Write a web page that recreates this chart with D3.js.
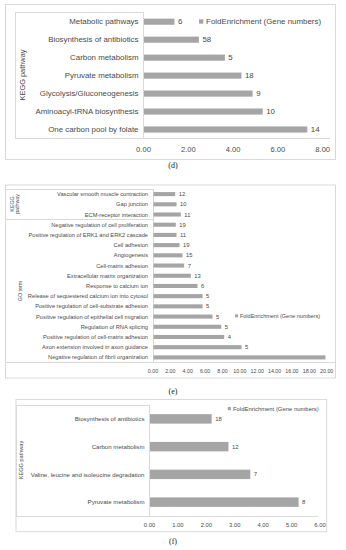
<!DOCTYPE html>
<html>
<head>
<meta charset="utf-8">
<title>Enrichment bars</title>
<script src="https://cdnjs.cloudflare.com/ajax/libs/d3/7.8.5/d3.min.js"></script>
<style>
    body { margin: 0; background: #fff; }
    text { font-family: "Liberation Sans", Arial, sans-serif; fill: #4a4a4a; }
    .frame { fill: none; stroke: #d9d9d9; }
    .grid { stroke: #d9d9d9; shape-rendering: crispEdges; }
    .bar { fill: #a5a5a5; }
    .caption { font-family: "Liberation Serif", "Times New Roman", serif; fill: #222; }
</style>
</head>
<body>
<svg id="chart" width="346" height="550"></svg>
<script>
// (d) KEGG pathway
var dTerms = ["Metabolic pathways", "Biosynthesis of antibiotics", "Carbon metabolism",
    "Pyruvate metabolism", "Glycolysis/Gluconeogenesis", "Aminoacyl-tRNA biosynthesis",
    "One carbon pool by folate"];
var dFold = [1.36, 2.45, 3.61, 4.35, 4.85, 5.30, 7.29];
var dGenes = [6, 58, 5, 18, 9, 10, 14];
var dTicks = [0, 2, 4, 6, 8];

// (e) KEGG pathway + GO term
var eTerms = ["Vascular smooth muscle contraction", "Gap junction", "ECM-receptor interaction",
    "Negative regulation of cell proliferation", "Positive regulation of ERK1 and ERK2 cascade",
    "Cell adhesion", "Angiogenesis", "Cell-matrix adhesion", "Extracellular matrix organization",
    "Response to calcium ion", "Release of sequestered calcium ion into cytosol",
    "Positive regulation of cell-substrate adhesion", "Positive regulation of epithelial cell migration",
    "Regulation of RNA splicing", "Positive regulation of cell-matrix adhesion",
    "Axon extension involved in axon guidance", "Negative regulation of fibril organization"];
var eFold = [2.5, 2.65, 3.15, 2.57, 2.65, 3.0, 3.34, 3.53, 4.3, 5.07, 5.65, 5.65, 6.8, 7.8, 8.14, 10.14, 19.8];
var eGenes = [12, 10, 11, 19, 11, 19, 15, 7, 13, 6, 5, 5, 5, 5, 4, 5, null];
var eGroupSizes = [3, 14];
var eTicks = d3.range(0, 21, 2);

// (f) KEGG pathway
var fTerms = ["Biosynthesis of antibiotics", "Carbon metabolism",
    "Valine, leucine and isoleucine degradation", "Pyruvate metabolism"];
var fFold = [2.17, 2.76, 3.53, 5.23];
var fGenes = [18, 12, 7, 8];
var fTicks = [0, 1, 2, 3, 4, 5, 6];

var legendText = "FoldEnrichment (Gene numbers)";
var svg = d3.select("#chart");

function drawPanel(p) {
    var g = svg.append("g");

    g.append("rect").attr("class", "frame")
        .attr("x", p.frame[0]).attr("y", p.frame[1])
        .attr("width", p.frame[2]).attr("height", p.frame[3]);

    var x = d3.scaleLinear().domain(p.domain).range([p.x0, p.x1]);
    var y = d3.scaleBand().domain(p.terms).range([p.top, p.bottom]).paddingInner(p.pad).paddingOuter(p.pad / 2);

    // category box lines
    g.append("line").attr("class", "grid")
        .attr("x1", p.boxLeft).attr("x2", x(0)).attr("y1", p.top).attr("y2", p.top);
    g.append("line").attr("class", "grid")
        .attr("x1", p.boxLeft).attr("x2", p.boxLeft).attr("y1", p.top).attr("y2", p.bottom);
    g.append("line").attr("class", "grid")
        .attr("x1", x(0)).attr("x2", x(0)).attr("y1", p.top).attr("y2", p.bottom);
    g.append("line").attr("class", "grid")
        .attr("x1", p.boxLeft).attr("x2", p.axisRight).attr("y1", p.bottom).attr("y2", p.bottom);

    g.selectAll(".bar")
        .data(p.terms)
        .enter().append("rect")
        .attr("class", "bar")
        .attr("x", x(0) + 0.5)
        .attr("y", function(d) { return y(d); })
        .attr("width", function(d, i) { return x(p.fold[i]) - x(0); })
        .attr("height", y.bandwidth());

    g.selectAll(".term")
        .data(p.terms)
        .enter().append("text")
        .attr("x", x(0) - p.labelGap)
        .attr("y", function(d) { return y(d) + y.bandwidth() / 2; })
        .attr("dy", "0.35em")
        .attr("text-anchor", "end")
        .style("font-size", p.labelSize + "px")
        .text(function(d) { return d; });

    g.selectAll(".count")
        .data(p.terms)
        .enter().append("text")
        .attr("x", function(d, i) { return x(p.fold[i]) + p.countGap; })
        .attr("y", function(d) { return y(d) + y.bandwidth() / 2; })
        .attr("dy", "0.35em")
        .style("font-size", p.countSize + "px")
        .text(function(d, i) { return p.genes[i] == null ? "" : p.genes[i]; });

    g.selectAll(".tick")
        .data(p.ticks)
        .enter().append("text")
        .attr("x", function(d) { return x(d); })
        .attr("y", p.tickY)
        .attr("text-anchor", "middle")
        .style("font-size", p.tickSize + "px")
        .text(function(d) { return d3.format(".2f")(d); });

    // legend
    g.append("rect").attr("class", "bar")
        .attr("x", p.legend[0]).attr("y", p.legend[1] - p.legendSize * 0.3)
        .attr("width", p.legendSize * 0.55).attr("height", p.legendSize * 0.55);
    g.append("text")
        .attr("x", p.legend[0] + p.legendSize * 0.9).attr("y", p.legend[1])
        .attr("dy", "0.35em")
        .style("font-size", p.legendSize + "px")
        .text(legendText);

    // axis titles
    p.titles.forEach(function(t) {
        var lines = t.text;
        g.append("text")
            .attr("transform", "translate(" + t.x + "," + t.y + ") rotate(-90)")
            .attr("text-anchor", "middle")
            .style("font-size", p.titleSize + "px")
            .selectAll("tspan")
            .data(lines)
            .enter().append("tspan")
            .attr("x", 0)
            .attr("dy", function(d, i) { return i ? "1.1em" : "0"; })
            .text(function(d) { return d; });
    });

    svg.append("text").attr("class", "caption")
        .attr("x", 173).attr("y", p.captionY)
        .attr("text-anchor", "middle")
        .style("font-size", "8px")
        .text(p.caption);

    return { x: x, y: y, g: g };
}

drawPanel({
    frame: [5.5, 4.5, 330, 155], domain: [0, 8], x0: 143.5, x1: 322.7,
    terms: dTerms, fold: dFold, genes: dGenes, ticks: dTicks,
    top: 12.7, bottom: 138.5, pad: 0.66, boxLeft: 15, axisRight: 330,
    labelGap: 5, labelSize: 7.9, countGap: 4, countSize: 7.9, tickY: 151.5, tickSize: 7.6,
    legend: [199, 21.7], legendSize: 7.9,
    titles: [{ text: ["KEGG pathway"], x: 25, y: 75 }], titleSize: 7.4,
    caption: "(d)", captionY: 168
});

var e = drawPanel({
    frame: [5.5, 185, 330, 193], domain: [0, 20], x0: 153, x1: 326.7,
    terms: eTerms, fold: eFold, genes: eGenes, ticks: eTicks,
    top: 189, bottom: 362.5, pad: 0.6, boxLeft: 5.5, axisRight: 335.5,
    labelGap: 5, labelSize: 5.7, countGap: 4, countSize: 5.8, tickY: 372.5, tickSize: 5.3,
    legend: [235, 316], legendSize: 5.5,
    titles: [{ text: ["KEGG", "pathway"], x: 13.5, y: 204 }, { text: ["GO term"], x: 22, y: 291 }],
    titleSize: 5.3,
    caption: "(e)", captionY: 394
});

// separator between KEGG pathway and GO term groups
var sepY = e.y(eTerms[eGroupSizes[0]]) - e.y.step() * e.y.paddingInner() / 2;
e.g.append("line").attr("class", "grid")
    .attr("x1", 5.5).attr("x2", e.x(0)).attr("y1", sepY).attr("y2", sepY);

drawPanel({
    frame: [16, 399.5, 310.7, 132.2], domain: [0, 6], x0: 149.5, x1: 320,
    terms: fTerms, fold: fFold, genes: fGenes, ticks: fTicks,
    top: 405, bottom: 516, pad: 0.66, boxLeft: 16, axisRight: 318,
    labelGap: 5, labelSize: 6.1, countGap: 4, countSize: 6, tickY: 526.5, tickSize: 5.8,
    legend: [227.7, 408.7], legendSize: 5.9,
    titles: [{ text: ["KEGG pathway"], x: 22.5, y: 460 }], titleSize: 5.6,
    caption: "(f)", captionY: 544
});
</script>
</body>
</html>
